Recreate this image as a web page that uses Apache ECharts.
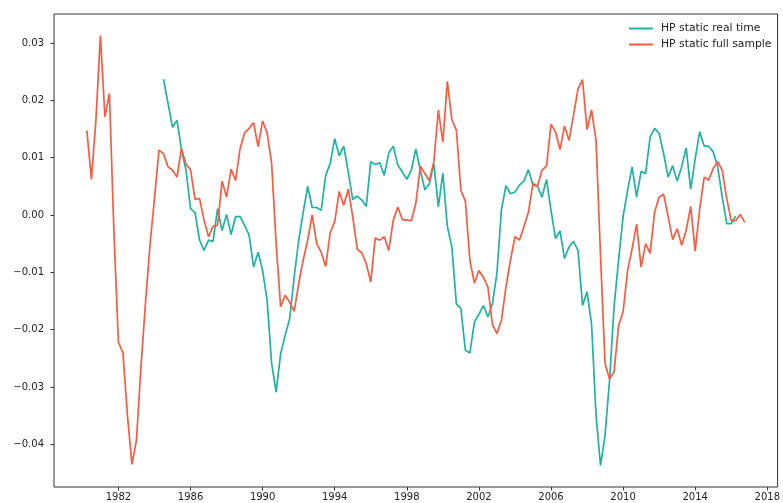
<!DOCTYPE html>
<html><head><meta charset="utf-8">
<script src="https://cdn.jsdelivr.net/npm/echarts@6/dist/echarts.min.js"></script>
<style>html,body{margin:0;padding:0;background:#fff}#c{width:783px;height:503px}</style>
</head><body><div id="c"></div>
<script>
// Quarterly data
const fullStart = 1980.25;   // first quarter of the full-sample series
const realStart = 1984.5;    // first quarter of the real-time series
const seriesNames = ['HP static real time', 'HP static full sample'];
const fullSample = [
  0.0147, 0.0062, 0.0165,
  0.0313, 0.0171, 0.0212, -0.003,
  -0.0222, -0.0240, -0.035, -0.0435,
  -0.0393, -0.0265, -0.0154, -0.0053,
  0.0029, 0.0113, 0.0107, 0.0084,
  0.0078, 0.0066, 0.0116, 0.0088,
  0.0079, 0.0027, 0.0029, -0.0009,
  -0.0038, -0.002, -0.0018, 0.0059,
  0.0031, 0.008, 0.006, 0.0116,
  0.0143, 0.0151, 0.0161, 0.0119,
  0.0164, 0.0143, 0.009, -0.005,
  -0.016, -0.014, -0.0152, -0.0168,
  -0.012, -0.0079, -0.0044, 0.0,
  -0.005, -0.0065, -0.009, -0.0031,
  -0.0012, 0.0041, 0.0017, 0.0045,
  -0.0003, -0.006, -0.0066, -0.0085,
  -0.0117, -0.004, -0.0044, -0.0038,
  -0.0062, -0.0009, 0.0014, -0.0008,
  -0.0009, -0.001, 0.002, 0.0085,
  0.0072, 0.006, 0.0093, 0.0183,
  0.0127, 0.0233, 0.0166, 0.0148,
  0.0043, 0.0024, -0.0079, -0.0119,
  -0.0097, -0.0109, -0.0126, -0.0191,
  -0.0207, -0.0184, -0.0126, -0.0079,
  -0.0038, -0.0044, -0.002, 0.0005,
  0.0055, 0.005, 0.0078, 0.0085,
  0.0158, 0.0145, 0.0114, 0.0155,
  0.013, 0.0174, 0.022, 0.0236,
  0.0149, 0.0183, 0.013, -0.0073,
  -0.0259, -0.0286, -0.0274, -0.0193,
  -0.0169, -0.0097, -0.0059, -0.0016,
  -0.0091, -0.005, -0.0067, 0.0005,
  0.0031, 0.0036, -0.0003, -0.0043,
  -0.0024, -0.0053, -0.0027, 0.0015,
  -0.0063, 0.001, 0.0066, 0.0061,
  0.0081, 0.0093, 0.0078, 0.0029,
  -0.001, -0.001, 0.0001, -0.0013
];
const realTime = [
  0.0237, 0.0195,
  0.0153, 0.0165, 0.0113, 0.0078,
  0.0011, 0.0004, -0.0044, -0.0062,
  -0.0044, -0.0046, 0.0011, -0.0027,
  0.0001, -0.0034, -0.0003, -0.0003,
  -0.0018, -0.0035, -0.0091, -0.0065,
  -0.0097, -0.0149, -0.0259, -0.0309,
  -0.0242, -0.021, -0.0181, -0.0108,
  -0.0045, 0.0004, 0.005, 0.0013,
  0.0013, 0.0008, 0.0069, 0.009,
  0.0133, 0.0103, 0.012, 0.0075,
  0.0027, 0.0033, 0.0026, 0.0015,
  0.0093, 0.0088, 0.0091, 0.0069,
  0.0108, 0.012, 0.0087, 0.0075,
  0.0062, 0.0078, 0.0115, 0.0078,
  0.0044, 0.0054, 0.009, 0.0014,
  0.0073, -0.002, -0.0056, -0.0155,
  -0.0163, -0.0236, -0.0241, -0.0187,
  -0.0173, -0.0158, -0.0178, -0.0155,
  -0.0102, 0.0009, 0.0051, 0.0037,
  0.004, 0.0052, 0.0059, 0.0079,
  0.0052, 0.005, 0.0031, 0.0062,
  0.0008, -0.0041, -0.0028, -0.0076,
  -0.0056, -0.0046, -0.0062, -0.0158,
  -0.0134, -0.019, -0.035, -0.0437,
  -0.0384, -0.0288, -0.016, -0.0079,
  -0.0003, 0.0043, 0.0084, 0.0031,
  0.0076, 0.0072, 0.0136, 0.0151,
  0.0142, 0.0107, 0.0066, 0.0086,
  0.0059, 0.0084, 0.0117, 0.0045,
  0.0098, 0.0145, 0.012, 0.012,
  0.011, 0.0084, 0.0031, -0.0015,
  -0.0015, -0.0002
];
const xTicks = [1982, 1986, 1990, 1994, 1998, 2002, 2006, 2010, 2014, 2018];
const yTicks = [-0.04, -0.03, -0.02, -0.01, 0.00, 0.01, 0.02, 0.03];

const colors = ['#1db3a1', '#f95a40'];

function toPairs(start, vals) { return vals.map((v, i) => [start + i * 0.25, v]); }
const realData = toPairs(realStart, realTime);
const fullData = toPairs(fullStart, fullSample);

// matplotlib-like autoscale with 5% margins
const allPts = realData.concat(fullData);
const xs = allPts.map(p => p[0]), ys = allPts.map(p => p[1]);
const xMin0 = Math.min(...xs), xMax0 = Math.max(...xs);
const yMin0 = Math.min(...ys), yMax0 = Math.max(...ys);
const xm = (xMax0 - xMin0) * 0.05, ym = (yMax0 - yMin0) * 0.05;

const font = 'DejaVu Sans';
const chart = echarts.init(document.getElementById('c'), null, { renderer: 'canvas' });
chart.setOption({
  animation: false,
  backgroundColor: '#fff',
  color: colors,
  grid: { left: 54, right: 3, top: 14, bottom: 16, show: true, borderColor: '#333', borderWidth: 1, backgroundColor: 'transparent' },
  legend: {
    orient: 'vertical', left: 628, top: 23, padding: 0, itemWidth: 24, itemHeight: 12, itemGap: 5,
    itemStyle: { opacity: 0 },
    textStyle: { fontFamily: font, fontSize: 10.8, color: '#222', padding: [0, 0, 0, 3] },
    data: seriesNames
  },
  xAxis: {
    type: 'value', min: xMin0 - xm, max: xMax0 + xm,
    axisLine: { show: false, onZero: false },
    splitLine: { show: false },
    axisTick: { show: true, length: 3.5, customValues: xTicks, lineStyle: { color: '#333', width: 1 } },
    axisLabel: { customValues: xTicks, margin: 5, fontFamily: font, fontSize: 10, color: '#222', formatter: v => String(Math.round(v)) }
  },
  yAxis: {
    type: 'value', min: yMin0 - ym, max: yMax0 + ym,
    axisLine: { show: false, onZero: false },
    splitLine: { show: false },
    axisTick: { show: true, length: 3.5, customValues: yTicks, lineStyle: { color: '#333', width: 1 } },
    axisLabel: { customValues: yTicks, margin: 10, fontFamily: font, fontSize: 10, color: '#222',
      formatter: v => (v < -1e-9 ? '\u2212' : '') + Math.abs(v).toFixed(2) }
  },
  series: [
    { name: seriesNames[0], type: 'line', data: realData, symbol: 'none', lineStyle: { width: 1.7, color: colors[0] }, itemStyle: { color: colors[0] } },
    { name: seriesNames[1], type: 'line', data: fullData, symbol: 'none', lineStyle: { width: 1.7, color: colors[1] }, itemStyle: { color: colors[1] } }
  ]
});
</script></body></html>
